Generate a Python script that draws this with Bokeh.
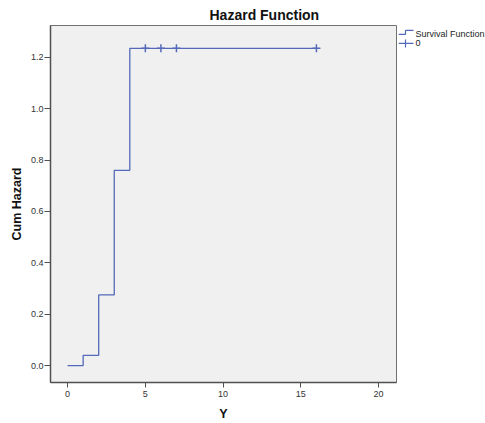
from bokeh.plotting import figure
from bokeh.models import Range1d, FixedTicker, PrintfTickFormatter
from bokeh.layouts import row
from bokeh.embed import file_html
from bokeh.resources import INLINE
from bokeh.core.properties import value

# ---- data ----
times = [0, 1, 2, 3, 4, 16]
cum_hazard = [0.0, 0.04, 0.275, 0.76, 1.235, 1.235]
censored_times = [5, 6, 7, 16]
censored_hazard = [1.235, 1.235, 1.235, 1.235]
x_ticks = [0, 5, 10, 15, 20]
y_ticks = [0.0, 0.2, 0.4, 0.6, 0.8, 1.0, 1.2]
title_text = "Hazard Function"
x_label = "Y"
y_label = "Cum Hazard"
legend_labels = ["Survival Function", "0"]

LINE = "#5469b9"
FONT = "Liberation Sans"
H = 423

p = figure(width=398, height=H, x_range=Range1d(-1.1, 21.15), y_range=Range1d(-0.066, 1.324),
           output_backend="svg", toolbar_location=None,
           min_border_left=50, min_border_right=2, min_border_top=25, min_border_bottom=39,
           background_fill_color="#f0f0f0", border_fill_color="white")
p.outline_line_color = "#707070"
p.outline_line_width = 1
p.grid.visible = False

p.title.text = title_text
p.title.align = "left"
p.title.offset = 159
p.title.standoff = 5
p.title.text_font = FONT
p.title.text_font_size = "14px"
p.title.text_font_style = "bold"
p.title.text_color = "#111111"

for ax in (p.xaxis[0], p.yaxis[0]):
    ax.axis_line_color = "#505050"
    ax.axis_line_width = 1.5
    ax.major_tick_line_color = "#505050"
    ax.major_tick_in = 0
    ax.minor_tick_line_color = None
    ax.major_label_text_font = FONT
    ax.major_label_text_font_size = "9px"
    ax.major_label_text_color = "#333333"
    ax.axis_label_text_font = FONT
    ax.axis_label_text_font_size = "12.5px"
    ax.axis_label_text_font_style = "bold"
    ax.axis_label_text_color = "#111111"

p.xaxis.ticker = FixedTicker(ticks=x_ticks)
p.xaxis.major_tick_out = 5
p.xaxis.major_label_standoff = 3
p.xaxis.axis_label = x_label
p.xaxis.axis_label_standoff = 7

p.yaxis.ticker = FixedTicker(ticks=y_ticks)
p.yaxis.formatter = PrintfTickFormatter(format="%.1f")
p.yaxis.major_tick_out = 6
p.yaxis.major_label_standoff = 1
p.yaxis.axis_label = y_label
p.yaxis.axis_label_standoff = 4

p.step(times, cum_hazard, mode="after", line_color=LINE, line_width=1.3)
p.scatter(censored_times, censored_hazard, marker="cross", size=8, line_color=LINE, line_width=1.5)

# ---- legend panel (page-pixel coordinates; its frame is aligned with the main frame) ----
lg = figure(width=87, height=H, x_range=Range1d(398, 485), y_range=Range1d(384, 25),
            output_backend="svg", toolbar_location=None, title=None,
            x_axis_type=None, y_axis_type=None,
            min_border=0, min_border_left=0, min_border_right=0, min_border_top=0, min_border_bottom=0)
lg.outline_line_color = None
lg.grid.visible = False
lg.background_fill_color = "white"

lg.line([398, 405, 405, 413], [34, 34, 30, 30], line_color=LINE, line_width=1.2)
lg.line([398, 413], [43, 43], line_color=LINE, line_width=1.2)
lg.line([405, 405], [39, 47], line_color=LINE, line_width=1.2)
lg.text([415, 415], [34, 43], text=legend_labels, text_font=value(FONT), text_font_size="9px",
        text_baseline="middle", text_align="left", text_color="#222222")

layout = row(p, lg)
open("out.html", "w").write(file_html(layout, INLINE))
